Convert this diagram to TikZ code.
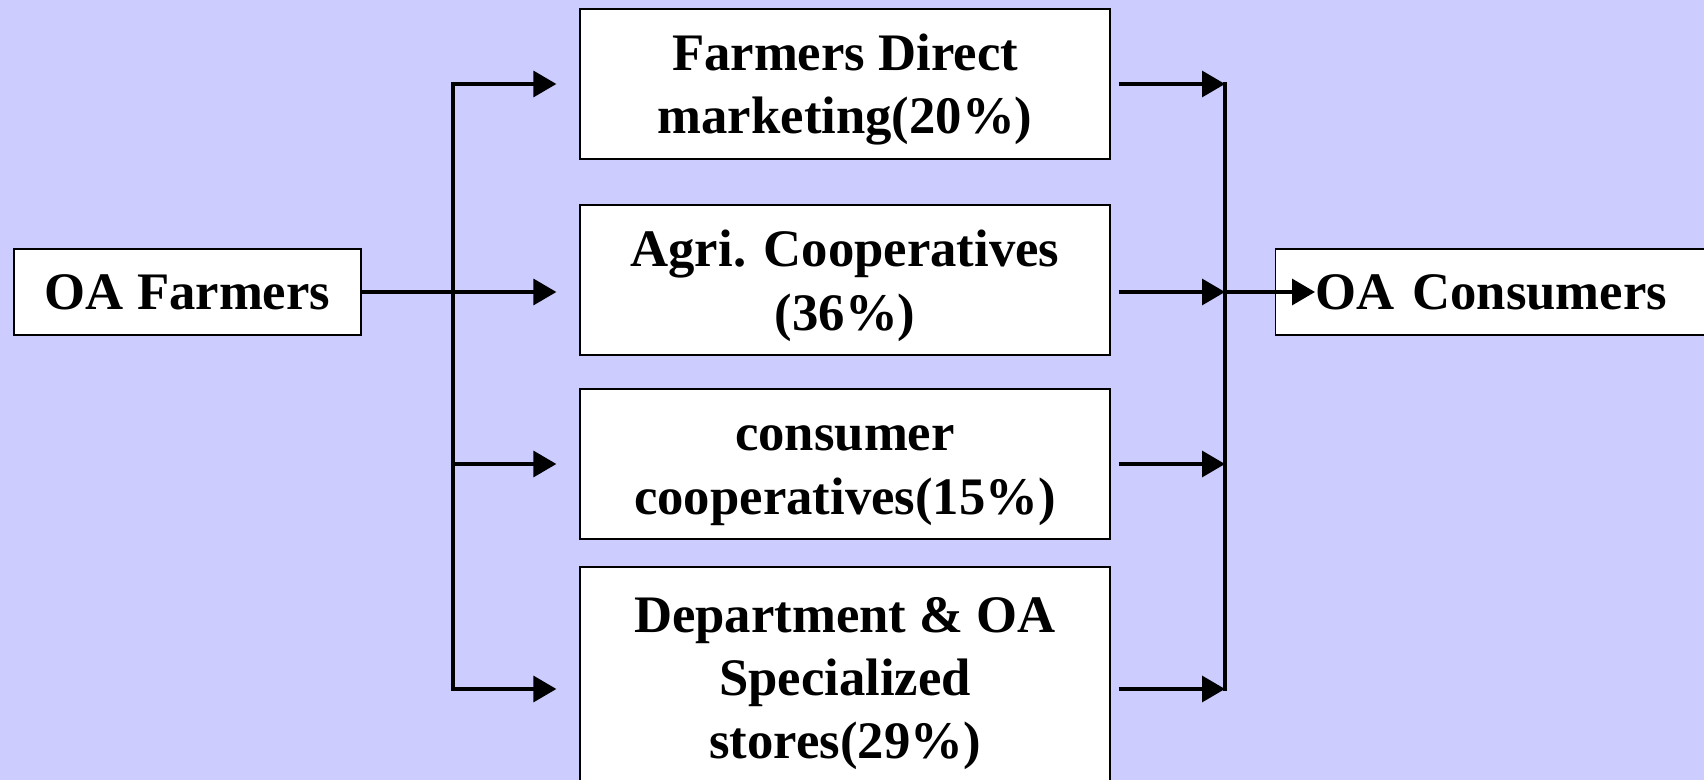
\documentclass[tikz,border=0pt]{standalone}
\usepackage{fontspec}
\setmainfont{Liberation Serif}
\usetikzlibrary{arrows.meta}
\definecolor{lavender}{RGB}{204,204,255}
\newcommand{\tallline}{\rule{0pt}{27.5pt}}
\tikzset{
	box/.style = {draw, fill = white, line width = 0.8pt, align = center, inner sep = 0pt, font = \bfseries\fontsize{30}{36}\selectfont},
	stage/.style = {box, minimum width = 10.6cm},
	flow/.style = {line width = 1.9pt, -{Triangle[length = 0.46cm, width = 0.52cm]}},
	rail/.style = {line width = 1.9pt, line cap = rect}
}

\begin{document}
\begin{tikzpicture}[x = 0.02cm, y = -0.02cm]
		\useasboundingbox (0,0) rectangle (1704,780);
		\clip (0,0) rectangle (1704,780);
		\fill[lavender] (0,0) rectangle (1704,780);
		\node[box, minimum width = 6.94cm, minimum height = 1.72cm] (farmers) at (187.5,292) {OA Farmers};
		\node[stage, minimum height = 3cm] (direct) at (845,84) {\tallline Farmers Direct\\marketing(20\%)};
		\node[stage, minimum height = 3cm] (agri) at (845,280) {\tallline Agri. Cooperatives\\(36\%)};
		\node[stage, minimum height = 3cm] (ccoop) at (845,464) {\tallline consumer\\cooperatives(15\%)};
		\node[stage, minimum height = 4.4cm] (dept) at (845,677) {\tallline Department \& OA\\Specialized\\stores(29\%)};
		\node[box, anchor = west, text width = 7.5cm, align = left, inner xsep = 0.8cm, minimum height = 1.72cm] (consumers) at (1275,292) {OA Consumers};
		\coordinate (lt) at (453,84);
		\coordinate (lb) at (453,689);
		\coordinate (rt) at (1225,84);
		\coordinate (rb) at (1225,689);
		\coordinate (rm) at (1225,292);
		\draw[rail] (lt) -- (lb);
		\draw[rail] (rt) -- (rb);
		\draw[flow, shorten > = 0.46cm] (lt) -- (lt -| direct.west);
		\draw[flow, shorten > = 0.46cm] (farmers.east) -- (farmers.east -| agri.west);
		\draw[flow, shorten > = 0.46cm] (lt |- ccoop.west) -- (ccoop.west);
		\draw[flow, shorten > = 0.46cm] (lb) -- (lb -| dept.west);
		\draw[flow, shorten < = 0.16cm] (direct.east) -- (rt);
		\draw[flow, shorten < = 0.16cm] (agri.east |- rm) -- (rm);
		\draw[flow, shorten < = 0.16cm] (ccoop.east) -- (ccoop.east -| rm);
		\draw[flow, shorten < = 0.16cm] (dept.east |- rb) -- (rb);
		\draw[flow] (rm) -- ([xshift = 0.8cm]consumers.west);
	\end{tikzpicture}
\end{document}
